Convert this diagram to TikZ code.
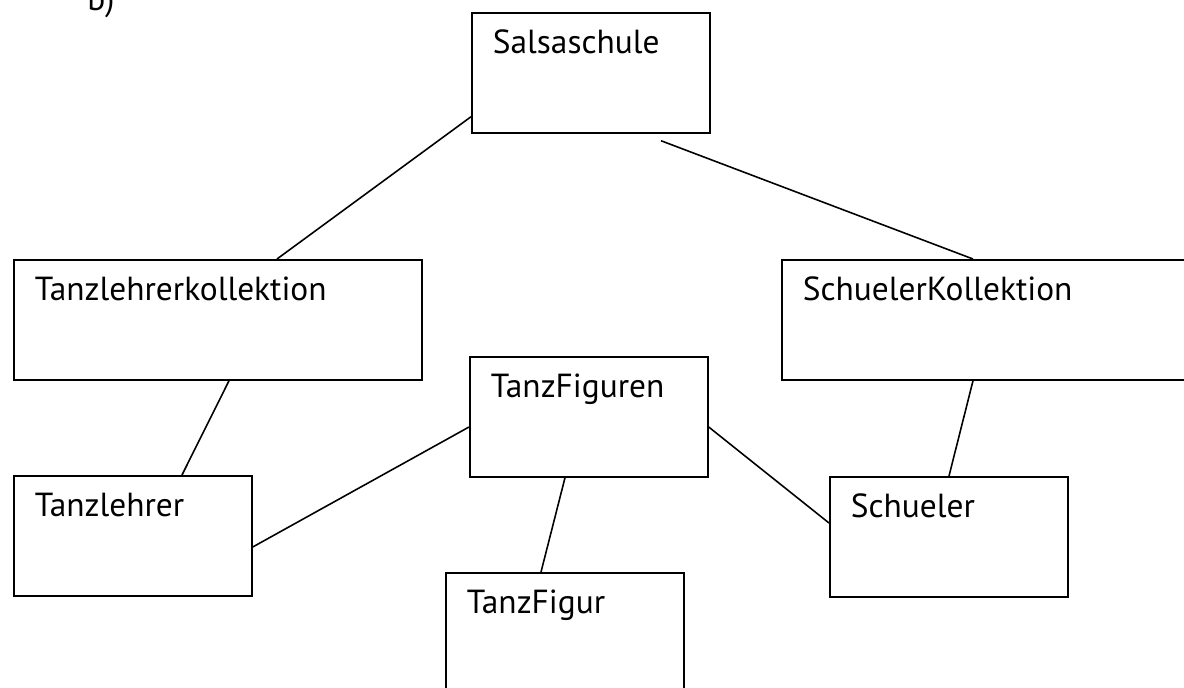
\documentclass[tikz,border=0pt]{standalone}
\usepackage{fontspec}
\setmainfont{PT Sans}
\usetikzlibrary{calc}

\tikzset{
	box/.style={draw, line width=1pt, anchor=north west, inner xsep=0.42cm, inner ysep=0pt,
		text width=#1, align=left, text height=0.82cm, text depth=1.58cm,
		font=\fontsize{19}{22}\selectfont},
	link/.style={line width=0.9pt}
}

\begin{document}
\begin{tikzpicture}[x=0.02cm, y=-0.02cm]
	\useasboundingbox (0,0) rectangle (1184,687);
	
	\node[anchor=base west, inner sep=0pt, font=\fontsize{19}{22}\selectfont] (part) at (87,10) {b)};
	
	% classes
	\node[box=3.92cm] (sal) at (471,12) {Salsaschule};
	\node[box=7.32cm] (tkoll) at (13,259) {Tanzlehrerkollektion};
	\node[box=7.32cm] (skoll) at (781,259) {SchuelerKollektion};
	\node[box=3.92cm] (figs) at (469,356) {TanzFiguren};
	\node[box=3.92cm] (lehrer) at (13,475) {Tanzlehrer};
	\node[box=3.92cm] (schueler) at (829,476) {Schueler};
	\node[box=3.92cm] (fig) at (445,572) {TanzFigur};
	
	% links
	\draw[link] ($(sal.south west)+(0,-17)$) -- ($(tkoll.north west)+(264,0)$);
	\draw[link] ($(sal.south west)+(190,7)$) -- ($(skoll.north west)+(192,0)$);
	\draw[link] ($(tkoll.south west)+(216,0)$) -- ($(lehrer.north west)+(169,0)$);
	\draw[link] ($(figs.north west)+(0,71)$) -- ($(lehrer.north east)+(0,72)$);
	\draw[link] ($(figs.south west)+(96,0)$) -- ($(fig.north west)+(96,0)$);
	\draw[link] ($(figs.north east)+(0,71)$) -- ($(schueler.north west)+(0,47)$);
	\draw[link] ($(skoll.south west)+(192,0)$) -- ($(schueler.north west)+(120,0)$);
\end{tikzpicture}
\end{document}
